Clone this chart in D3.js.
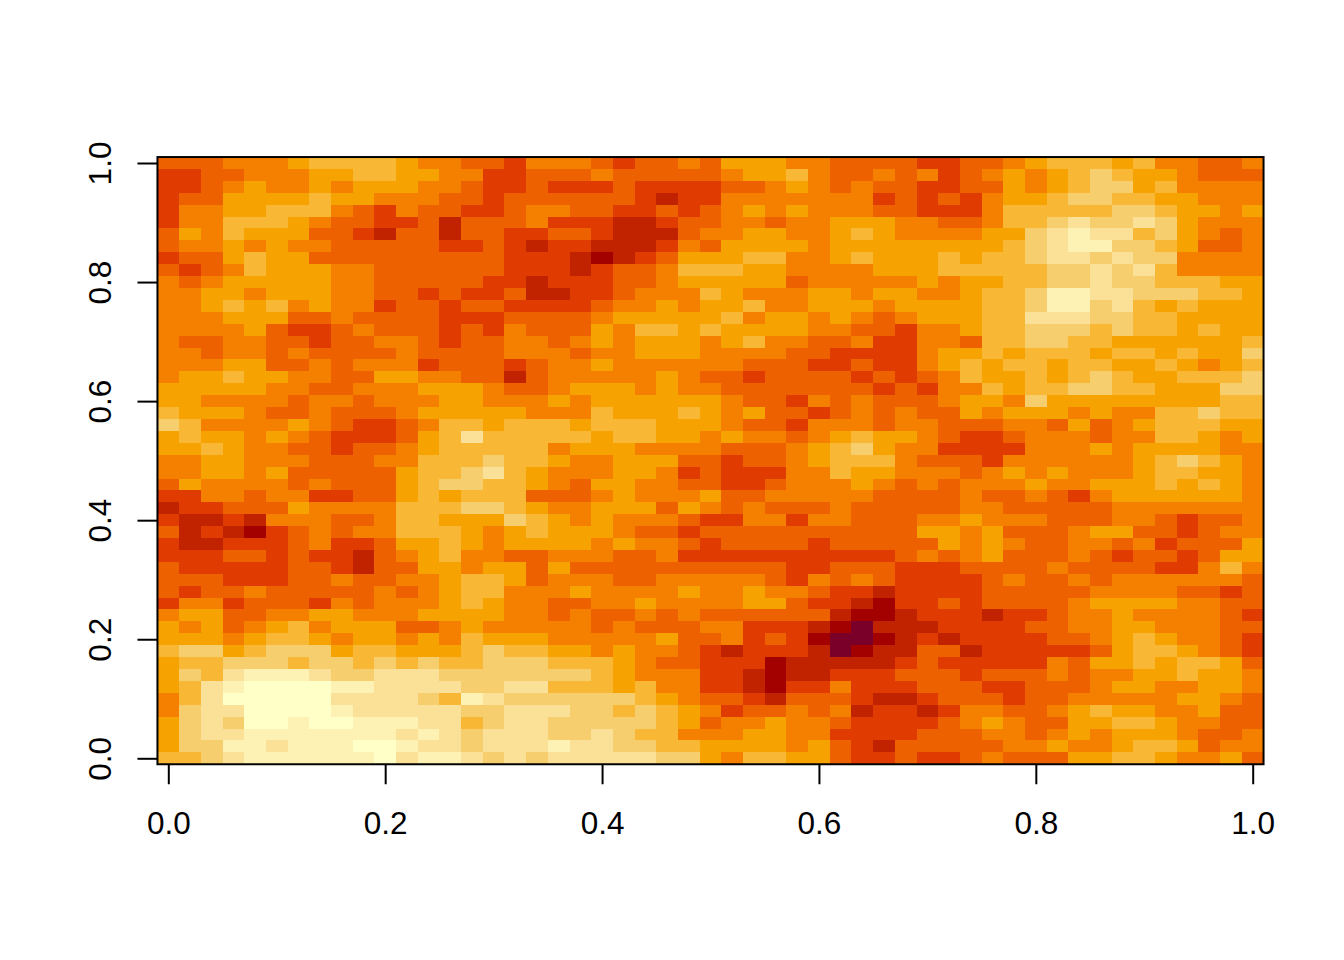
<!DOCTYPE html>
<html>
<head>
<meta charset="utf-8">
<style>
html,body{margin:0;padding:0;background:#fff;}
svg{display:block;}
text{font-family:"Liberation Sans",Arial,sans-serif;fill:#000;}
</style>
<script src="https://cdn.jsdelivr.net/npm/d3@7"></script>
</head>
<body>
<svg id="chart" width="1344" height="960"></svg>
<script>
// Colour level of every cell, top row (y = 1.0) first; one hex digit per column (x = 0 .. 1).
const levelRows = [
"4445556777765"+"5443555434454"+"6665544443344"+"567776755445",
"3344555667766"+"5533444544444"+"5667544545345"+"656787665444",
"3345655656665"+"5433433343333"+"4456545443344"+"656788675555",
"3446666766555"+"4434444443233"+"5555555343435"+"667887766555",
"3556677754354"+"4334554433434"+"5656555443335"+"777778876656",
"3557776544334"+"2444533322344"+"5545566655445"+"778988986555",
"4657666443244"+"2443344322245"+"5665567655556"+"689A99786545",
"4556565544444"+"3343233222354"+"6666566666666"+"789AA8876445",
"3446766444444"+"4443332123466"+"6775567666767"+"789989885555",
"4345766655444"+"4443332344577"+"7665555666777"+"778898975555",
"5456666655444"+"4433233344566"+"6664555556566"+"778898877766",
"5566566655443"+"4334223345557"+"6555665665567"+"78AA99888776",
"5567675655344"+"3443333455656"+"6755666566667"+"78AA89767666",
"5556664454444"+"3334444566666"+"7566565456667"+"799988776666",
"5555643345444"+"3435444657767"+"6666554435567"+"788878776766",
"5445544344554"+"3445545656665"+"6755445335547"+"788776666667",
"5545545444454"+"4445554556665"+"5554433335667"+"677767767668",
"5556644545553"+"4443455655555"+"5444334335676"+"776776676567",
"5667665544665"+"5442455555654"+"4344443434576"+"676787667778",
"6666655445556"+"6654456665655"+"4444444343557"+"677887766688",
"6655554554555"+"6655565666666"+"5443545444566"+"586666666677",
"7666544544456"+"6666555766676"+"5644345454465"+"666565577877",
"8755556543345"+"7767776777666"+"5443555455444"+"554645677766",
"6766565433346"+"7977777677665"+"6554567665433"+"455545577656",
"6676554434456"+"7777756665555"+"4445678655333"+"355565666655",
"5566555444557"+"7787765566644"+"3445677754443"+"555555678765",
"5566564444467"+"7897655566534"+"3335576655545"+"656555677665",
"4655554544467"+"8877654665544"+"3345556545455"+"565566676765",
"3355455334467"+"6777444565556"+"4455555444454"+"454356666665",
"2334446555577"+"7887655666465"+"4544454444455"+"444445555555",
"3223255544577"+"6668765655543"+"3553554445565"+"554445543445",
"4232134545577"+"7656766654434"+"4444444446656"+"444566443455",
"3223334533466"+"7656666565543"+"4444344444656"+"544554534446",
"3334434332456"+"7554455544533"+"3333333345456"+"444543443466",
"4333334432446"+"6566464444444"+"4443344433344"+"445444433575",
"4443334454455"+"6776455544555"+"5543545433334"+"544545555554",
"4344544444545"+"6775556555565"+"5655433233334"+"444455554434",
"3553444354555"+"6765544556555"+"5664332133434"+"444566665544",
"5664455665556"+"6665545445454"+"4444421123332"+"334556555543",
"6564567566644"+"5655555454445"+"5333210222333"+"344556655544",
"6665677656656"+"5766655555644"+"5343100123233"+"334456765543",
"7886788867766"+"6787766565543"+"2333201224423"+"333346776543",
"6778887887878"+"7788877765443"+"3312222234333"+"335466767764",
"6879AAA988999"+"8888888765553"+"3212233344434"+"445455667665",
"679ABBBBAA999"+"9889977767553"+"3213353334443"+"344456655665",
"579BBBBB99998"+"7A98888887654"+"4324443223444"+"344555556654",
"5899BBBBA9999"+"9889998878765"+"3445452332355"+"445676655644",
"6898BBABBAAA9"+"9789988888764"+"5565543333456"+"544667765544",
"6899AAAAAAA9A"+"9899988987755"+"5665533334445"+"545656665445",
"688AA9AAABBA9"+"98999A9988776"+"6665643244444"+"556556776455",
"7789AAAAAAB9A"+"A989899999886"+"5776643343345"+"444667765564"
];
const levelColors = ["#7b0029","#a30000","#c12200","#e03b00","#ee6100","#f58000",
                     "#f6a200","#f8b735","#f7ce6d","#fbe198","#fdf1b3","#ffffc8"];
const xTicks = [0,0.2,0.4,0.6,0.8,1];
const yTicks = [0,0.2,0.4,0.6,0.8,1];

const svg = d3.select("#chart");
const x = d3.scaleLinear().domain([0,1]).range([168.3,1252.7]);
const y = d3.scaleLinear().domain([0,1]).range([758.3,163]);
const color = d3.scaleOrdinal().domain(d3.range(levelColors.length)).range(levelColors);
const half = 0.01, nRow = levelRows.length;

const cells = levelRows.flatMap((row,r)=>Array.from(row,(ch,c)=>({
  x:c/(row.length-1), y:(nRow-1-r)/(nRow-1), level:parseInt(ch,16)})));

svg.append("g").selectAll("rect").data(cells).join("rect")
  .attr("x",d=>x(d.x-half))
  .attr("y",d=>y(d.y+half))
  .attr("width",d=>x(d.x+half)-x(d.x-half))
  .attr("height",d=>y(d.y-half)-y(d.y+half))
  .attr("fill",d=>color(d.level))
  .attr("shape-rendering","crispEdges");

const fmt = d3.format(".1f");
const axB = svg.append("g").attr("transform",`translate(0,${y(-half)})`)
  .call(d3.axisBottom(x).tickValues(xTicks).tickFormat(fmt).tickSize(20).tickPadding(27));
const axL = svg.append("g").attr("transform",`translate(${x(-half)},0)`)
  .call(d3.axisLeft(y).tickValues(yTicks).tickFormat(fmt).tickSize(20).tickPadding(0));
[axB,axL].forEach(a=>{
  a.selectAll("path").remove();
  a.selectAll("line").attr("stroke","#000").attr("stroke-width",2);
  a.selectAll("text").style("font-size","31.5px").attr("fill","#000");
});
axL.selectAll("text").attr("text-anchor","middle").attr("dy",0)
  .attr("x",0).attr("y",0)
  .attr("transform","translate(-46,0) rotate(-90)");
// plot box
svg.append("rect")
  .attr("x",x(-half)).attr("y",y(1+half))
  .attr("width",x(1+half)-x(-half)).attr("height",y(-half)-y(1+half))
  .attr("fill","none").attr("stroke","#000").attr("stroke-width",2);
</script>
</body>
</html>
